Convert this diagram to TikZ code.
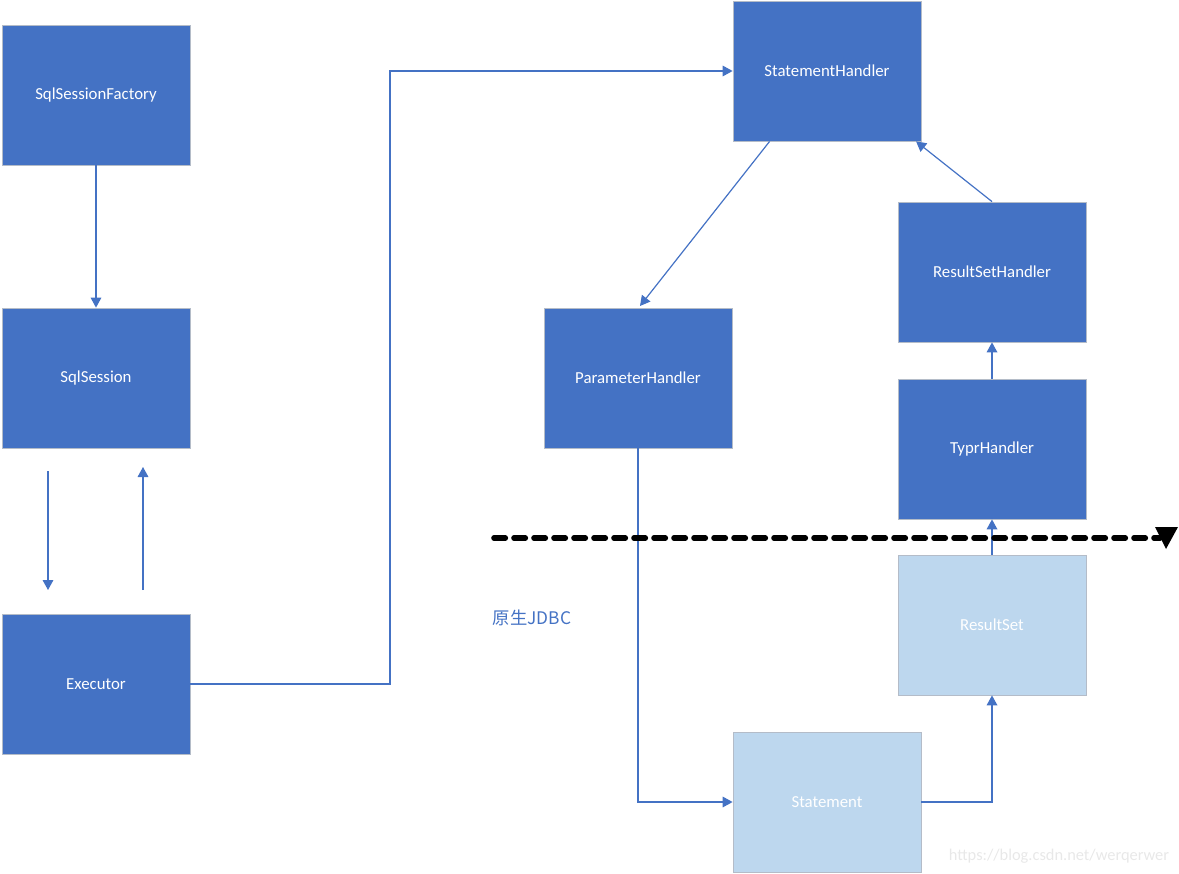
\documentclass[tikz,border=0pt]{standalone}
\usepackage{fontspec}
\setmainfont{Carlito}
\newfontfamily\cjk{Noto Sans CJK SC}
\usetikzlibrary{arrows.meta}
\definecolor{boxblue}{HTML}{4472C4}
\definecolor{lightblue}{HTML}{BDD7EE}
\definecolor{boxline}{HTML}{B4BCC8}
\tikzset{
  handler/.style={rectangle, fill=boxblue, draw=boxline, line width=0.6pt,
    minimum width=141pt, minimum height=105pt, text=white,
    font=\fontsize{12.6}{14}\selectfont},
  jdbc/.style={handler, fill=lightblue},
  link/.style={draw=boxblue, line width=0.9pt,
    -{Triangle[length=7.5pt, width=8pt]}}
}
\begin{document}
\begin{tikzpicture}[x=0.75pt, y=-0.75pt]
  \useasboundingbox (0,0) rectangle (1179,874);
  % left column
  \node[handler] (factory) at (96,95) {SqlSessionFactory};
  \node[handler] (session) at (96,378) {SqlSession};
  \node[handler] (executor) at (96,684) {Executor};
  % handlers
  \node[handler] (stmthandler) at (827,71) {StatementHandler};
  \node[handler] (paramhandler) at (638,378) {ParameterHandler};
  \node[handler] (rshandler) at (992,272) {ResultSetHandler};
  \node[handler] (typehandler) at (992,449) {TyprHandler};
  % native jdbc
  \node[jdbc] (resultset) at (992,625) {ResultSet};
  \node[jdbc] (statement) at (827,802) {Statement};

  \coordinate (downtop) at (48,471);
  \coordinate (downend) at (48,590);
  \coordinate (upbottom) at (143,590);
  \coordinate (upend) at (143,467);

  \draw[link] (factory) -- (session);
  \draw[link] (downtop) -- (downend);
  \draw[link] (upbottom) -- (upend);
  \draw[link] (executor.east) -| (390,71) -- (stmthandler.west);
  \draw[link] (stmthandler.south west) ++(37,0) -- (640,306);
  \draw[link] (rshandler.north) -- ([xshift=-4]stmthandler.south east);
  \draw[link] (typehandler) -- (rshandler);
  \draw[link] (resultset) -- (typehandler);
  \draw[link] (paramhandler.south) |- (statement.west);
  \draw[link] (statement.east) -| (resultset.south);

  % boundary of native JDBC
  \coordinate (lineleft) at (494,538);
  \coordinate (lineright) at (1160,538);
  \draw[black, line width=4.2pt, dash pattern=on 8.5pt off 6.5pt, line cap=round]
    (lineleft) -- (lineright);
  \fill[black] (1155,527) -- (1178,527) -- (1166,549) -- cycle;
  \node[text=boxblue, font=\cjk\fontsize{13}{15}\selectfont] (native) at (532,618) {原生JDBC};

  \node[text=black!9, font=\fontsize{12.3}{14}\selectfont] (mark) at (1059,856) {https://blog.csdn.net/werqerwer};
\end{tikzpicture}
\end{document}
